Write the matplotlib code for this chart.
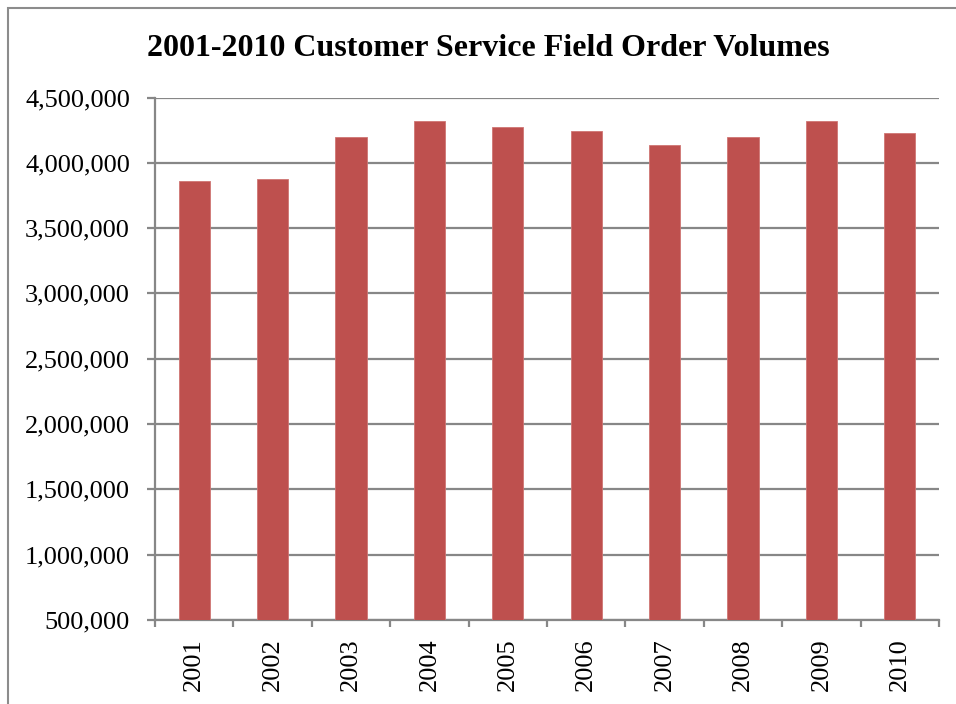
import matplotlib
matplotlib.use("Agg")
import matplotlib.pyplot as plt
from matplotlib.patches import Rectangle
from matplotlib.ticker import FuncFormatter, FixedLocator
import numpy as np

years = ["2001", "2002", "2003", "2004", "2005", "2006", "2007", "2008", "2009", "2010"]
volumes = [3861000, 3876000, 4195000, 4318000, 4272000, 4241000, 4136000, 4195000, 4318000, 4226000]
title = "2001-2010 Customer Service Field Order Volumes"

plt.rcParams["font.family"] = ["Liberation Serif", "DejaVu Serif"]

W, H = 956, 704
fig = plt.figure(figsize=(W / 100, H / 100), dpi=100)

# outer chart frame (extends beyond the right and bottom edges)
fig.patches.append(Rectangle((8 / W, -0.1), 1.2, 1 - 8 / H + 0.1, transform=fig.transFigure,
                             fill=False, edgecolor="#8c8c8c", linewidth=1.5))

ax = fig.add_axes([155 / W, 1 - 620 / H, (939 - 155) / W, (620 - 97.5) / H])
grid_c = "#878787"

x = np.arange(len(years))
ax.bar(x, volumes, width=0.4, color="#BE504E", edgecolor="#CF7573", linewidth=0.6, zorder=3)

ax.set_xlim(-0.5, len(years) - 0.5)
ax.set_ylim(500000, 4500000)
ax.yaxis.set_major_locator(FixedLocator(np.arange(500000, 4500001, 500000)))
ax.yaxis.set_major_formatter(FuncFormatter(lambda v, p: f"{int(v):,}"))
ax.grid(axis="y", color=grid_c, linewidth=1.6, zorder=0)
ax.set_axisbelow(True)

ax.set_xticks(x)
ax.set_xticklabels(years, rotation=90)
ax.set_xticks(np.arange(-0.5, len(years)), minor=True)
ax.tick_params(axis="x", which="major", length=0, pad=13, labelsize=19)
ax.tick_params(axis="x", which="minor", length=5, width=1.6, color=grid_c)
ax.tick_params(axis="y", length=6, width=1.6, color=grid_c, labelsize=19, pad=12)

for s in ["top", "right"]:
    ax.spines[s].set_visible(False)
for s in ["left", "bottom"]:
    ax.spines[s].set_color(grid_c)
    ax.spines[s].set_linewidth(1.6)

fig.text(488 / W, 1 - 48 / H, title, ha="center", va="center",
         fontsize=23, fontweight="bold")

fig.savefig("out.png", dpi=100)
